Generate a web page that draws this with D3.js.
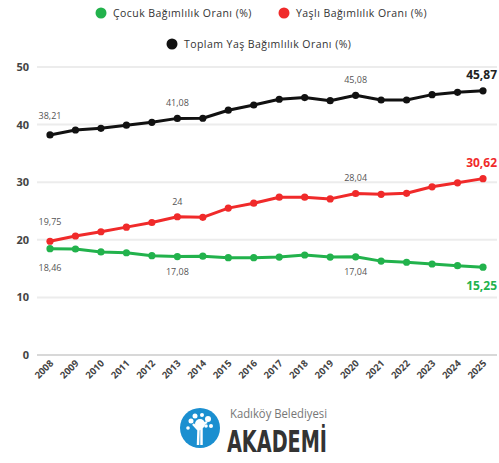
<!DOCTYPE html>
<html>
<head>
<meta charset="utf-8">
<script src="https://cdn.jsdelivr.net/npm/d3@7"></script>
<style>
  body { margin: 0; background: #fff; }
  text { font-family: "Open Sans", "DejaVu Sans", sans-serif; }
</style>
</head>
<body>
<script>
var width = 499,
    height = 463;

// data
var years = [2008, 2009, 2010, 2011, 2012, 2013, 2014, 2015, 2016, 2017, 2018, 2019, 2020, 2021, 2022, 2023, 2024, 2025];
var cocuk = [18.46, 18.4, 17.9, 17.75, 17.25, 17.08, 17.15, 16.9, 16.9, 17.0, 17.36, 17.0, 17.04, 16.3, 16.1, 15.8, 15.5, 15.25];
var yasli = [19.75, 20.66, 21.4, 22.2, 23.0, 24, 23.9, 25.5, 26.35, 27.4, 27.4, 27.1, 28.04, 27.9, 28.07, 29.2, 29.9, 30.62];
var toplam = [38.21, 39.06, 39.35, 39.9, 40.4, 41.08, 41.1, 42.5, 43.4, 44.4, 44.7, 44.15, 45.08, 44.27, 44.27, 45.2, 45.6, 45.87];
var yTicks = [0, 10, 20, 30, 40, 50];
var seriesNames = ["Çocuk Bağımlılık Oranı (%)", "Yaşlı Bağımlılık Oranı (%)", "Toplam Yaş Bağımlılık Oranı (%)"];
var colors = ["#22b24c", "#f02a2a", "#111111"];

var svg = d3.select("body").append("svg")
    .attr("width", width)
    .attr("height", height);

var x = d3.scalePoint().domain(years).range([50, 483]);
var y = d3.scaleLinear().domain([0, 50]).range([355, 67]);

// grid
svg.append("g").selectAll("line")
  .data(yTicks)
  .enter().append("line")
    .attr("x1", 37).attr("x2", 497)
    .attr("y1", d => y(d)).attr("y2", d => y(d))
    .attr("stroke", d => d == 0 ? "#d8d8d8" : "#ececec")
    .attr("stroke-width", 2);

svg.append("g").selectAll("text")
  .data(yTicks)
  .enter().append("text")
    .attr("x", 29).attr("y", d => y(d) + 4)
    .attr("text-anchor", "end")
    .attr("font-size", 11).attr("font-weight", 700)
    .attr("fill", "#444")
    .text(d => d);

// x labels
svg.append("g").selectAll("text")
  .data(years)
  .enter().append("text")
    .attr("transform", d => "translate(" + (x(d) + 4) + ",364) rotate(-45)")
    .attr("text-anchor", "end")
    .attr("font-size", 9.5).attr("font-weight", 700)
    .attr("fill", "#444")
    .text(d => d);

var series = [cocuk, yasli, toplam];
var line = d3.line().x((d, i) => x(years[i])).y(d => y(d));

series.forEach(function(s, k) {
  var g = svg.append("g");
  g.append("path")
    .datum(s)
    .attr("d", line)
    .attr("fill", "none")
    .attr("stroke", colors[k])
    .attr("stroke-width", 3)
    .attr("stroke-linejoin", "round");
  g.selectAll("circle")
    .data(s)
    .enter().append("circle")
      .attr("cx", (d, i) => x(years[i]))
      .attr("cy", d => y(d))
      .attr("r", 3.6)
      .attr("fill", colors[k]);
});

// value labels
var labelIdx = [0, 5, 12];
series.forEach(function(s, k) {
  labelIdx.forEach(function(i) {
    var dy;
    if (k == 0) dy = i == 0 ? 22 : 18;
    else dy = i == 0 ? -16 : -12;
    svg.append("text")
      .attr("x", x(years[i]))
      .attr("y", y(s[i]) + dy)
      .attr("text-anchor", "middle")
      .attr("font-size", 9)
      .attr("fill", "#555")
      .text(String(s[i]).replace(".", ","));
  });
  var last = s.length - 1;
  svg.append("text")
    .attr("x", x(years[last]) + 14)
    .attr("y", y(s[last]) + (k == 0 ? 23 : -12))
    .attr("text-anchor", "end")
    .attr("font-size", 12)
    .attr("font-weight", 700)
    .attr("fill", k == 2 ? "#222" : colors[k])
    .text(s[last].toFixed(2).replace(".", ","));
});

// legend
var legendPos = [[101, 13], [284, 13], [172, 44]];
seriesNames.forEach(function(n, k) {
  svg.append("circle")
    .attr("cx", legendPos[k][0]).attr("cy", legendPos[k][1])
    .attr("r", 5.5).attr("fill", colors[k]);
  svg.append("text")
    .attr("x", legendPos[k][0] + 12).attr("y", legendPos[k][1] + 4)
    .attr("font-size", 10.5)
    .style("letter-spacing", "0.45px")
    .attr("fill", "#333")
    .text(n);
});

// logo
var logo = svg.append("g").attr("transform", "translate(200,428)");
logo.append("circle").attr("r", 20).attr("fill", "#1b8fd0");
logo.append("path")
  .attr("d", "M-2,17 L-1.5,2 L-7,-4 M-1.5,2 L1.5,-3 L1.5,17 M1.5,-3 L7,-6")
  .attr("stroke", "#fff").attr("stroke-width", 2.5).attr("fill", "none");
[[0,-4,5],[-9,-7,2.5],[-5,-12,2.5],[2,-13,2],[8,-9,3],[11,-2,2],[-12,0,1.8],[6,-2,1.8]].forEach(function(c) {
  logo.append("circle").attr("cx", c[0]).attr("cy", c[1]).attr("r", c[2]).attr("fill", "#fff");
});
svg.append("text")
  .attr("x", 230).attr("y", 418)
  .attr("font-size", 13).attr("fill", "#777")
  .attr("textLength", 97)
  .attr("lengthAdjust", "spacingAndGlyphs")
  .text("Kadıköy Belediyesi");
svg.append("text")
  .attr("x", 227).attr("y", 452)
  .attr("font-size", 31).attr("font-weight", 700)
  .attr("fill", "#333")
  .style("font-family", "'DejaVu Sans Condensed', 'DejaVu Sans', sans-serif")
  .attr("textLength", 100)
  .attr("lengthAdjust", "spacingAndGlyphs")
  .text("AKADEMİ");
</script>
</body>
</html>
